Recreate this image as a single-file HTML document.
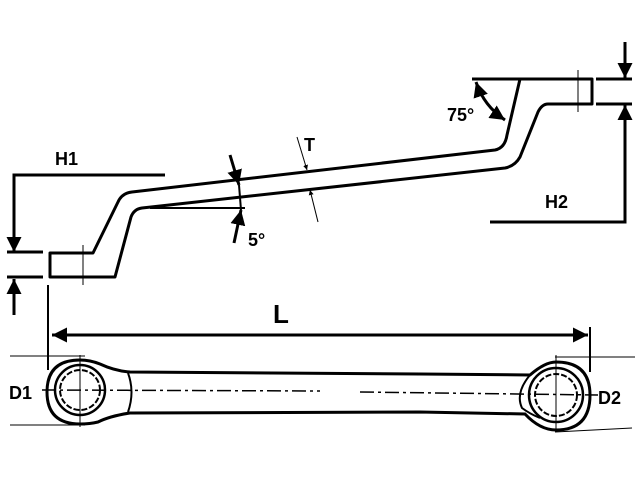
<!DOCTYPE html>
<html><head><style>
html,body{margin:0;padding:0;background:#fff;}
svg{display:block;}
text{font-family:"Liberation Sans",sans-serif;font-weight:bold;fill:#000;}
</style></head><body>
<svg width="640" height="480" viewBox="0 0 640 480" xmlns="http://www.w3.org/2000/svg">
<defs>
<marker id="a" viewBox="0 0 10 10" refX="10" refY="5" markerWidth="5" markerHeight="5" orient="auto-start-reverse"><path d="M0,0L10,5L0,10z" fill="#000"/></marker>
</defs>
<g fill="none" stroke="#000" stroke-width="3" stroke-linejoin="round">
<path d="M93,253 L118,202 Q122,193 132,192 L495,150 Q505,148 507,135 L520,79 L592,79 L592,104 L548,104 Q542,104 538,112 L520,157 Q515,166 505,168 L142,208 Q134,209 131,217 L115,277 L50,277 L50,253 Z"/>
</g>
<g stroke="#000" stroke-width="1" fill="none">
<line x1="83" y1="245" x2="83" y2="285"/>
<line x1="578" y1="70" x2="578" y2="112"/>
<line x1="150" y1="208" x2="245" y2="208" stroke-width="2"/>
<line x1="297" y1="137" x2="307" y2="170" marker-end="url(#a)"/>
<line x1="318" y1="222" x2="310" y2="190" marker-end="url(#a)"/>
</g>
<g stroke="#000" stroke-width="3" fill="none">
<polyline points="165,175 14,175 14,240"/>
<line x1="14" y1="235" x2="14" y2="252" marker-end="url(#a)"/>
<line x1="7" y1="252" x2="43" y2="252"/>
<line x1="7" y1="277" x2="43" y2="277"/>
<line x1="14" y1="315" x2="14" y2="279" marker-end="url(#a)"/>
<line x1="48" y1="285" x2="48" y2="370" stroke-width="2"/>
<line x1="230" y1="155" x2="239" y2="185" marker-end="url(#a)"/>
<line x1="234" y1="243" x2="241" y2="210" marker-end="url(#a)"/>
<line x1="239" y1="185" x2="241" y2="210" stroke-width="2"/>
<line x1="472" y1="79" x2="520" y2="79"/>
<path d="M476,82 Q484,106 505,120" marker-start="url(#a)" marker-end="url(#a)"/>
<line x1="625" y1="42" x2="625" y2="78" marker-end="url(#a)"/>
<line x1="596" y1="79" x2="632" y2="79"/>
<line x1="596" y1="104" x2="632" y2="104"/>
<polyline points="490,222 625,222 625,110"/>
<line x1="625" y1="125" x2="625" y2="105" marker-end="url(#a)"/>
<line x1="52" y1="335" x2="588" y2="335" marker-start="url(#a)" marker-end="url(#a)"/>
<line x1="590" y1="327" x2="590" y2="372" stroke-width="2"/>
<path d="M100,364 Q115,371 130,372 L420,374 L530,375 Q545,362 556,362 Q590,362 590,395 Q590,430 556,430 Q540,430 525,414 L420,412 L130,413 Q110,416 98,422 Q90,424 80,424 Q47,424 47,392 Q47,360 80,360 Q90,360 100,364 Z"/>
<circle cx="80" cy="390" r="25" stroke-width="2.5"/>
<circle cx="80" cy="390" r="20" stroke-width="2" stroke-dasharray="6,2"/>
<path d="M128,373 Q135,392 128,412" stroke-width="2"/>
<path d="M530,375 Q515,393 522,408 Q530,414 540,418" stroke-width="2"/>
<circle cx="556" cy="395" r="27" stroke-width="2.5"/>
<circle cx="556" cy="395" r="21" stroke-width="2" stroke-dasharray="6,2"/>
</g>
<g stroke="#000" stroke-width="1" fill="none">
<line x1="10" y1="356" x2="85" y2="356"/>
<line x1="10" y1="425" x2="85" y2="425"/>
<line x1="555" y1="357" x2="635" y2="357"/>
<line x1="555" y1="432" x2="632" y2="428"/>
<line x1="80" y1="355" x2="80" y2="427"/>
<line x1="556" y1="355" x2="556" y2="432"/>
<line x1="42" y1="390" x2="320" y2="391" stroke-dasharray="14,4,3,4" stroke-width="1.5"/>
<line x1="360" y1="392" x2="598" y2="395" stroke-dasharray="14,4,3,4" stroke-width="1.5"/>
</g>
<text x="55" y="165" font-size="18">H1</text>
<text x="248" y="246" font-size="18" font-weight="normal">5°</text>
<text x="304" y="151" font-size="18">T</text>
<text x="447" y="121" font-size="18" font-weight="normal">75°</text>
<text x="545" y="208" font-size="18">H2</text>
<text x="273" y="323" font-size="26">L</text>
<text x="9" y="399" font-size="18">D1</text>
<text x="598" y="404" font-size="18">D2</text>
</svg>
</body></html>
